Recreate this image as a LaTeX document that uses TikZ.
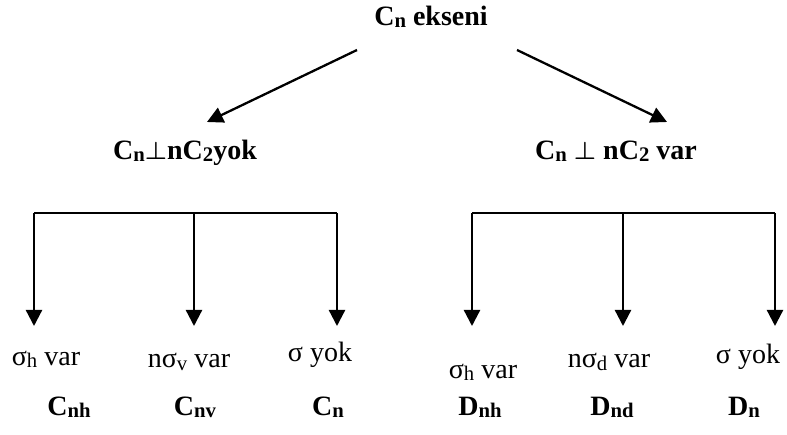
\documentclass[tikz,border=0pt]{standalone}
\usepackage{amsmath}
\usepackage{fontspec}
\setmainfont{Liberation Serif}
\usetikzlibrary{arrows.meta}
% index set slightly smaller than the text and a little below its baseline
\newcommand\idx[1]{\raisebox{-2pt}{\scalebox{0.74}{#1}}}
\begin{document}
\begin{tikzpicture}[x=1pt,y=-1pt,
  lbl/.style={font=\fontsize{28}{30}\selectfont, inner sep=0pt, anchor=base},
  blbl/.style={lbl, font=\fontsize{28}{30}\selectfont\bfseries},
  conn/.style={line width=2.3pt},
  arr/.style={conn, -{Triangle[length=16pt,width=16pt]}}]
\useasboundingbox (0,0) rectangle (787,435);

% heading and the two branches
\node[blbl] (top) at (431,26) {C\idx{n} ekseni};
\node[blbl] (left) at (185,160) {C\idx{n}$\boldsymbol{\perp}$nC\idx{2}yok};
\node[blbl] (right) at (616,160) {C\idx{n} $\boldsymbol{\perp}$ nC\idx{2} var};

\coordinate (topL) at (357,50);
\coordinate (topR) at (517,50);
\coordinate (inL) at (207,122);
\coordinate (inR) at (667,122);
\draw[arr] (topL) -- (inL);
\draw[arr] (topR) -- (inR);

% left bracket
\coordinate (l1) at (34,213);
\coordinate (l2) at (194,213);
\coordinate (l3) at (337,213);
\coordinate (l1e) at (34,326);
\coordinate (l2e) at (194,326);
\coordinate (l3e) at (337,326);
\draw[conn] (l1) -- (l3);
\draw[arr] (l1) -- (l1e);
\draw[arr] (l2) -- (l2e);
\draw[arr] (l3) -- (l3e);

% right bracket
\coordinate (r1) at (472,213);
\coordinate (r2) at (623,213);
\coordinate (r3) at (775,213);
\coordinate (r1e) at (472,326);
\coordinate (r2e) at (623,326);
\coordinate (r3e) at (775,326);
\draw[conn] (r1) -- (r3);
\draw[arr] (r1) -- (r1e);
\draw[arr] (r2) -- (r2e);
\draw[arr] (r3) -- (r3e);

% symmetry elements
\node[lbl] (s1) at (46,366) {σ\idx{h} var};
\node[lbl] (s2) at (189,368) {nσ\idx{v} var};
\node[lbl] (s3) at (320,362) {σ yok};
\node[lbl] (s4) at (483,378) {σ\idx{h} var};
\node[lbl] (s5) at (609,368) {nσ\idx{d} var};
\node[lbl] (s6) at (748,363) {σ yok};

% point groups
\node[blbl] (g1) at (69,415) {C\idx{nh}};
\node[blbl] (g2) at (195,415) {C\idx{nv}};
\node[blbl] (g3) at (328,415) {C\idx{n}};
\node[blbl] (g4) at (480,415) {D\idx{nh}};
\node[blbl] (g5) at (612,415) {D\idx{nd}};
\node[blbl] (g6) at (744,415) {D\idx{n}};
\end{tikzpicture}
\end{document}
